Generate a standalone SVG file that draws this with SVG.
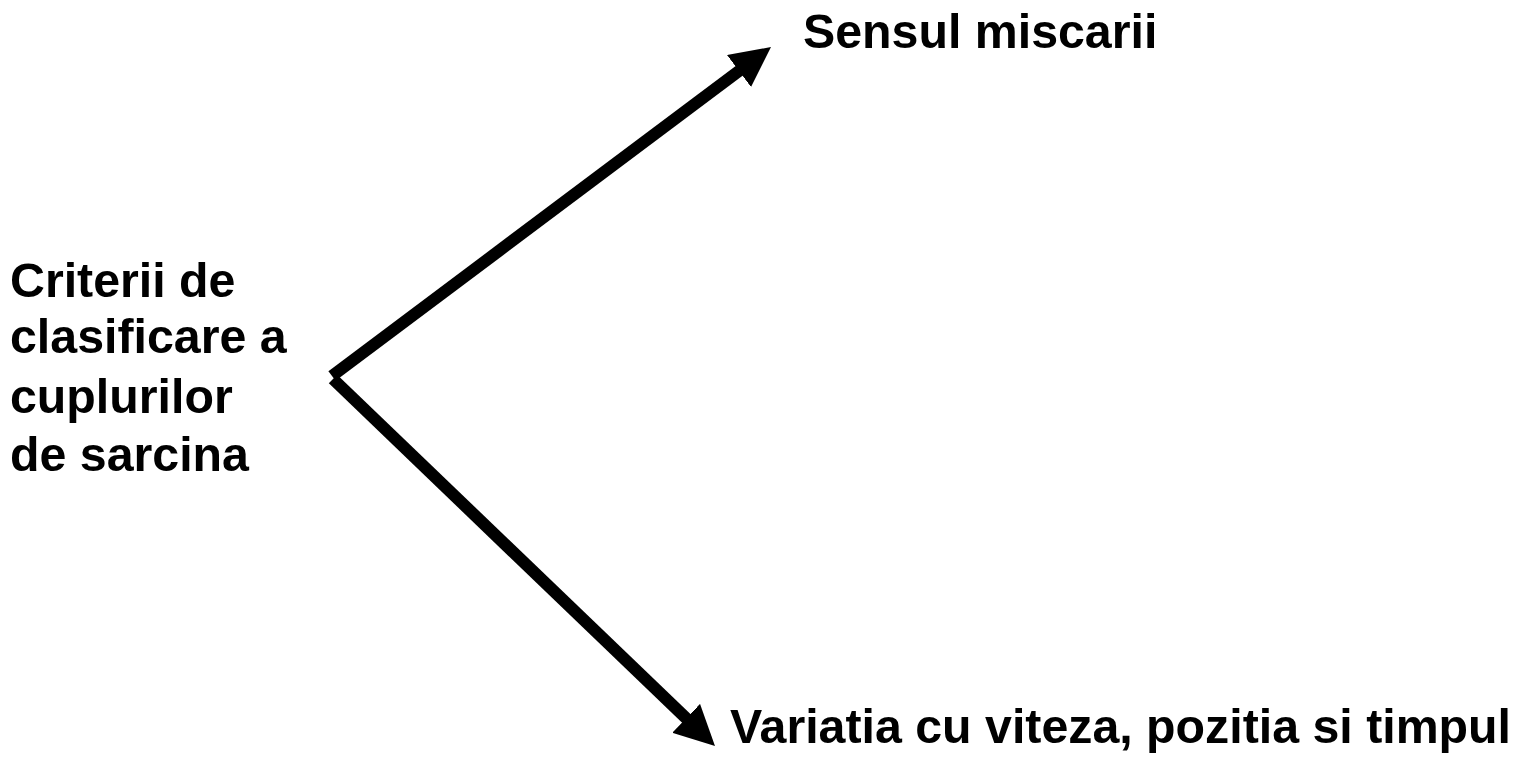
<svg xmlns="http://www.w3.org/2000/svg" width="1518" height="757" viewBox="0 0 1518 757">
<style>
.t{font-family:"Liberation Sans",Arial,sans-serif;font-weight:bold;font-size:48.3px;fill:#000}
.c{stroke:#000;stroke-width:12;fill:none}
</style>
<defs>
<marker id="ah" markerUnits="userSpaceOnUse" markerWidth="42" markerHeight="40" viewBox="0 0 42 40" refX="2" refY="20" orient="auto">
<path d="M0,0 L40,20 L0,40 Z" fill="#000"/>
</marker>
</defs>
<rect width="1518" height="757" fill="#fff"/>
<g id="connectors">
<line class="c" x1="332" y1="376" x2="740.6" y2="69.8" marker-end="url(#ah)"/>
<line class="c" x1="333" y1="379" x2="687.6" y2="719.7" marker-end="url(#ah)"/>
</g>
<g id="criterii">
<text class="t" x="10" y="297">Criterii de</text>
<text class="t" x="10" y="353">clasificare a</text>
<text class="t" x="10" y="413">cuplurilor</text>
<text class="t" x="10" y="471">de sarcina</text>
</g>
<g id="sensul">
<text class="t" x="803" y="48">Sensul miscarii</text>
</g>
<g id="variatia">
<text class="t" x="730" y="743">Variatia cu viteza, pozitia si timpul</text>
</g>
</svg>
